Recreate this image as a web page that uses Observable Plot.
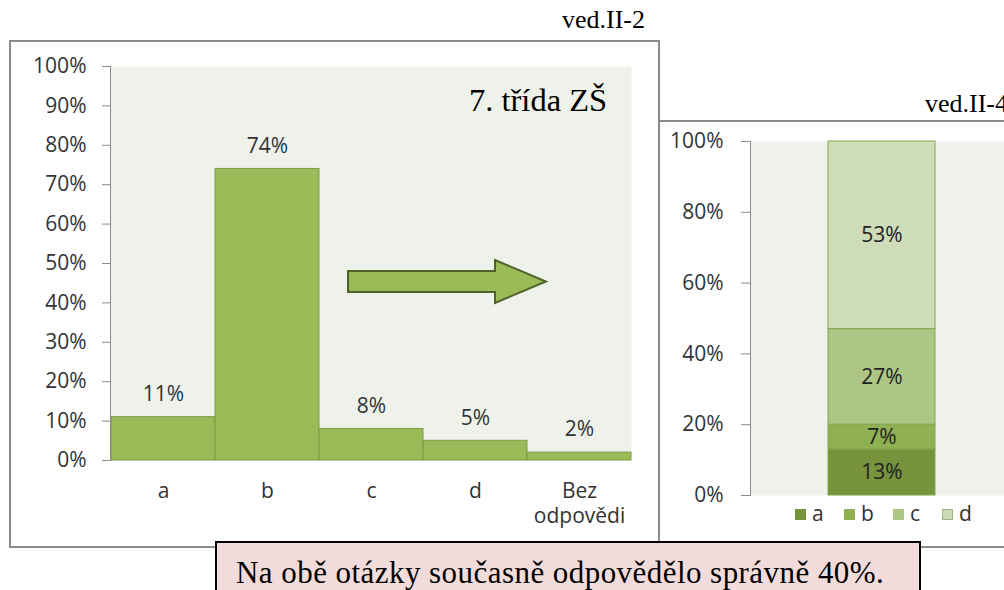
<!DOCTYPE html>
<html><head><meta charset="utf-8">
<script src="https://cdn.jsdelivr.net/npm/d3@7"></script>
<script src="https://cdn.jsdelivr.net/npm/@observablehq/plot@0.6"></script>
<style>
body{margin:0;width:1004px;height:590px;overflow:hidden;background:#fff;position:relative;font-family:"Open Sans",sans-serif;}
.abs{position:absolute;}
.serif{font-family:"Liberation Serif","Times New Roman",serif;color:#000;white-space:nowrap;}
</style></head><body>
<script>
// ---- data ----
const categories = ["a", "b", "c", "d", "Bez\nodpovědi"];
const values7 = [0.11, 0.74, 0.08, 0.05, 0.02];
const yTicksLeft = [0, 0.1, 0.2, 0.3, 0.4, 0.5, 0.6, 0.7, 0.8, 0.9, 1];
const stackCats = ["a", "b", "c", "d"];
const stackValues = [0.13, 0.07, 0.27, 0.53];
const stackColors = ["#77933c", "#8fb152", "#adc585", "#cfdcb9"];
const yTicksRight = [0, 0.2, 0.4, 0.6, 0.8, 1];
const titleLeft = "7. třída ZŠ";
const labelLeft = "ved.II-2";
const labelRight = "ved.II-4";
const note = "Na obě otázky současně odpovědělo správně 40%.";

const fmt = d3.format(".0%");
const leftData = categories.map((c, i) => ({cat: c, value: values7[i]}));
const rightData = stackCats.map((c, i) => ({grp: "7", cat: c, value: stackValues[i]}));

function add(el, css) { Object.assign(el.style, css); el.classList.add("abs"); document.body.appendChild(el); return el; }
function div(css, html, cls) { const e = document.createElement("div"); if (cls) e.className = cls; if (html != null) e.textContent = html; return add(e, css); }

// left frame
div({left: "9px", top: "40px", width: "651px", height: "508px", border: "2px solid #8a8a8a", boxSizing: "border-box", background: "#fff"});

const axisStyle = {fontFamily: "Open Sans", fontSize: "21px", color: "#404040", background: "transparent", overflow: "visible"};

const left = Plot.plot({
  width: 649, height: 507,
  marginLeft: 100, marginRight: 28, marginTop: 26, marginBottom: 87,
  style: axisStyle,
  x: {domain: categories, padding: 0, label: null},
  y: {domain: [0, 1], label: null},
  marks: [
    Plot.frame({fill: "#eff2ea", stroke: "none"}),
    Plot.barY(leftData, {x: "cat", y: "value", fill: "#9bbb59", stroke: "#7d9b45", strokeWidth: 1}),
    Plot.text(leftData, {x: "cat", y: "value", text: d => fmt(d.value), dy: -23, fill: "#333", fontSize: 21}),
    Plot.axisY({ticks: yTicksLeft, tickFormat: fmt, tickSize: 8, tickPadding: 16, stroke: "#8a8a8a", fill: "#333", label: null}),
    Plot.axisX({tickSize: 0, tickPadding: 19, label: null, lineHeight: 1.22, fill: "#333"}),
    Plot.frame({anchor: "left", stroke: "#8a8a8a"})
  ]
});
add(left, {left: "10px", top: "40px"});

// arrow (decoration)
const ns = "http://www.w3.org/2000/svg";
const arrow = document.createElementNS(ns, "svg");
arrow.setAttribute("width", 210); arrow.setAttribute("height", 50);
const poly = document.createElementNS(ns, "polygon");
poly.setAttribute("points", "2,13 149,13 149,2 200,23.5 149,45 149,34 2,34");
poly.setAttribute("fill", "#9bbb59"); poly.setAttribute("stroke", "#4f6228"); poly.setAttribute("stroke-width", "2");
arrow.appendChild(poly);
add(arrow, {left: "346px", top: "258px"});

div({left: "469px", top: "81px", fontSize: "32.5px", lineHeight: "38px"}, titleLeft, "serif");
div({left: "562px", top: "4px", fontSize: "26px", lineHeight: "32px"}, labelLeft, "serif");

// right frame
div({left: "658px", top: "120px", width: "400px", height: "428px", border: "2px solid #8a8a8a", borderRight: "none", boxSizing: "border-box", background: "#fff"});

const right = Plot.plot({
  width: 353, height: 426,
  marginLeft: 91, marginRight: 0, marginTop: 20, marginBottom: 52,
  style: axisStyle,
  x: {domain: ["7"], padding: 0.42, axis: null},
  y: {domain: [0, 1], label: null},
  color: {domain: stackCats, range: stackColors},
  marks: [
    Plot.frame({fill: "#eff2ea", stroke: "none"}),
    Plot.barY(rightData, {x: "grp", y: "value", fill: "cat", stroke: "#86a64d", strokeWidth: 1}),
    Plot.text(rightData, Plot.stackY({x: "grp", y: "value", text: d => fmt(d.value), fill: "#222", fontSize: 21})),
    Plot.axisY({ticks: yTicksRight, tickFormat: fmt, tickSize: 9, tickPadding: 18, stroke: "#8a8a8a", fill: "#333", label: null}),
    Plot.frame({anchor: "left", stroke: "#8a8a8a"})
  ]
});
add(right, {left: "659px", top: "121px"});

// legend
stackCats.forEach((c, i) => {
  div({left: (795 + i * 49) + "px", top: "509px", width: "11px", height: "11px", background: stackColors[i], border: "1px solid " + (i === 3 ? "#9fb57f" : stackColors[i]), boxSizing: "border-box"});
  div({left: (812 + i * 49) + "px", top: "499px", fontSize: "21px", lineHeight: "28px", color: "#333", fontFamily: "Open Sans"}, c);
});

div({left: "925px", top: "88px", fontSize: "26px", lineHeight: "32px"}, labelRight, "serif");

// note box
div({left: "215px", top: "541px", width: "706px", height: "60px", border: "2px solid #000", boxSizing: "border-box", background: "#f2dcdb", fontSize: "31px", lineHeight: "34px", letterSpacing: "0.45px", paddingLeft: "19px", paddingTop: "13px"}, note, "serif");
</script>
</body></html>
